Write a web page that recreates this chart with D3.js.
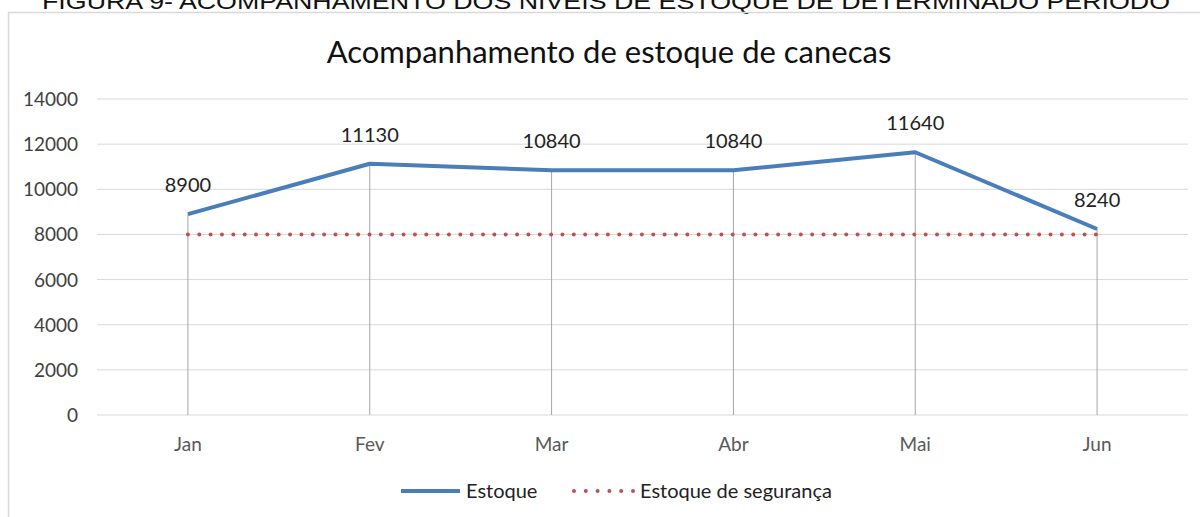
<!DOCTYPE html>
<html>
<head>
<meta charset="utf-8">
<script src="https://cdn.jsdelivr.net/npm/d3@7"></script>
<style>
  body { margin: 0; background: #fff; }
  svg { display: block; }
</style>
</head>
<body>
<div id="chart"></div>
<script>
const months = ['Jan', 'Fev', 'Mar', 'Abr', 'Mai', 'Jun'];
const estoque = [8900, 11130, 10840, 10840, 11640, 8240];
const seguranca = [8000, 8000, 8000, 8000, 8000, 8000];
const yTicks = [0, 2000, 4000, 6000, 8000, 10000, 12000, 14000];

const W = 1200, H = 517;
const font = 'Lato, "Open Sans", sans-serif';

const svg = d3.select('#chart').append('svg')
    .attr('width', W).attr('height', H);

// caption, cut off at the top of the picture
svg.append('text')
    .attr('x', 42).attr('y', 9)
    .attr('textLength', 1128)
    .attr('lengthAdjust', 'spacingAndGlyphs')
    .attr('font-family', '"Liberation Sans", Arial, sans-serif')
    .attr('font-size', 22)
    .attr('fill', '#111')
    .text('FIGURA 9- ACOMPANHAMENTO DOS NÍVEIS DE ESTOQUE DE DETERMINADO PERÍODO');

// chart frame
svg.append('rect')
    .attr('x', 8.5).attr('y', 12.5)
    .attr('width', 1205).attr('height', 520)
    .attr('fill', 'none')
    .attr('stroke', '#d9d9d9')
    .attr('stroke-width', 1.5);

svg.append('text')
    .attr('x', 609).attr('y', 63)
    .attr('text-anchor', 'middle')
    .attr('font-family', font)
    .attr('font-size', 31)
    .attr('fill', '#111')
    .text('Acompanhamento de estoque de canecas');

let x = d3.scaleBand().domain(months).range([97, 1188]).padding(0);
let y = d3.scaleLinear().domain([0, 14000]).range([415, 99]);
const cx = d => x(d) + x.bandwidth() / 2;

// gridlines
svg.append('g').selectAll('line').data(yTicks).enter().append('line')
    .attr('x1', 97).attr('x2', 1188)
    .attr('y1', d => y(d)).attr('y2', d => y(d))
    .attr('stroke', '#d9d9d9').attr('stroke-width', 1);

// y labels
svg.append('g').selectAll('text').data(yTicks).enter().append('text')
    .attr('x', 78).attr('y', d => y(d) + 7)
    .attr('text-anchor', 'end')
    .attr('font-family', font).attr('font-size', 19)
    .attr('fill', '#404040')
    .text(d => d);

// x labels
svg.append('g').selectAll('text').data(months).enter().append('text')
    .attr('x', d => cx(d)).attr('y', 451)
    .attr('text-anchor', 'middle')
    .attr('font-family', font).attr('font-size', 19)
    .attr('fill', '#595959')
    .text(d => d);

// drop lines
svg.append('g').selectAll('line').data(months).enter().append('line')
    .attr('x1', d => cx(d)).attr('x2', d => cx(d))
    .attr('y1', (d, i) => y(estoque[i])).attr('y2', y(0))
    .attr('stroke', '#a6a6a6').attr('stroke-width', 1);

// safety stock line
let line = d3.line()
    .x((d, i) => cx(months[i]))
    .y(d => y(d));

svg.append('path').datum(seguranca)
    .attr('d', line)
    .attr('fill', 'none')
    .attr('stroke', '#c0504d')
    .attr('stroke-width', 4)
    .attr('stroke-linecap', 'round')
    .attr('stroke-dasharray', '0 11.35');

// stock line
svg.append('path').datum(estoque)
    .attr('d', line)
    .attr('fill', 'none')
    .attr('stroke', '#4a7ebb')
    .attr('stroke-width', 4)
    .attr('stroke-linejoin', 'round');

// data labels
svg.append('g').selectAll('text').data(estoque).enter().append('text')
    .attr('x', (d, i) => cx(months[i]))
    .attr('y', d => y(d) - 22)
    .attr('text-anchor', 'middle')
    .attr('font-family', font).attr('font-size', 20)
    .attr('fill', '#222')
    .text(d => d);

// legend
let lg = svg.append('g');
lg.append('line')
    .attr('x1', 401).attr('x2', 460).attr('y1', 491).attr('y2', 491)
    .attr('stroke', '#4a7ebb').attr('stroke-width', 4);
lg.append('text')
    .attr('x', 466).attr('y', 498)
    .attr('font-family', font).attr('font-size', 20).attr('fill', '#222')
    .text('Estoque');
lg.append('line')
    .attr('x1', 574).attr('x2', 634).attr('y1', 491).attr('y2', 491)
    .attr('stroke', '#c0504d').attr('stroke-width', 4)
    .attr('stroke-linecap', 'round')
    .attr('stroke-dasharray', '0 11.8');
lg.append('text')
    .attr('x', 640).attr('y', 498)
    .attr('font-family', font).attr('font-size', 20).attr('fill', '#222')
    .text('Estoque de segurança');
</script>
</body>
</html>
